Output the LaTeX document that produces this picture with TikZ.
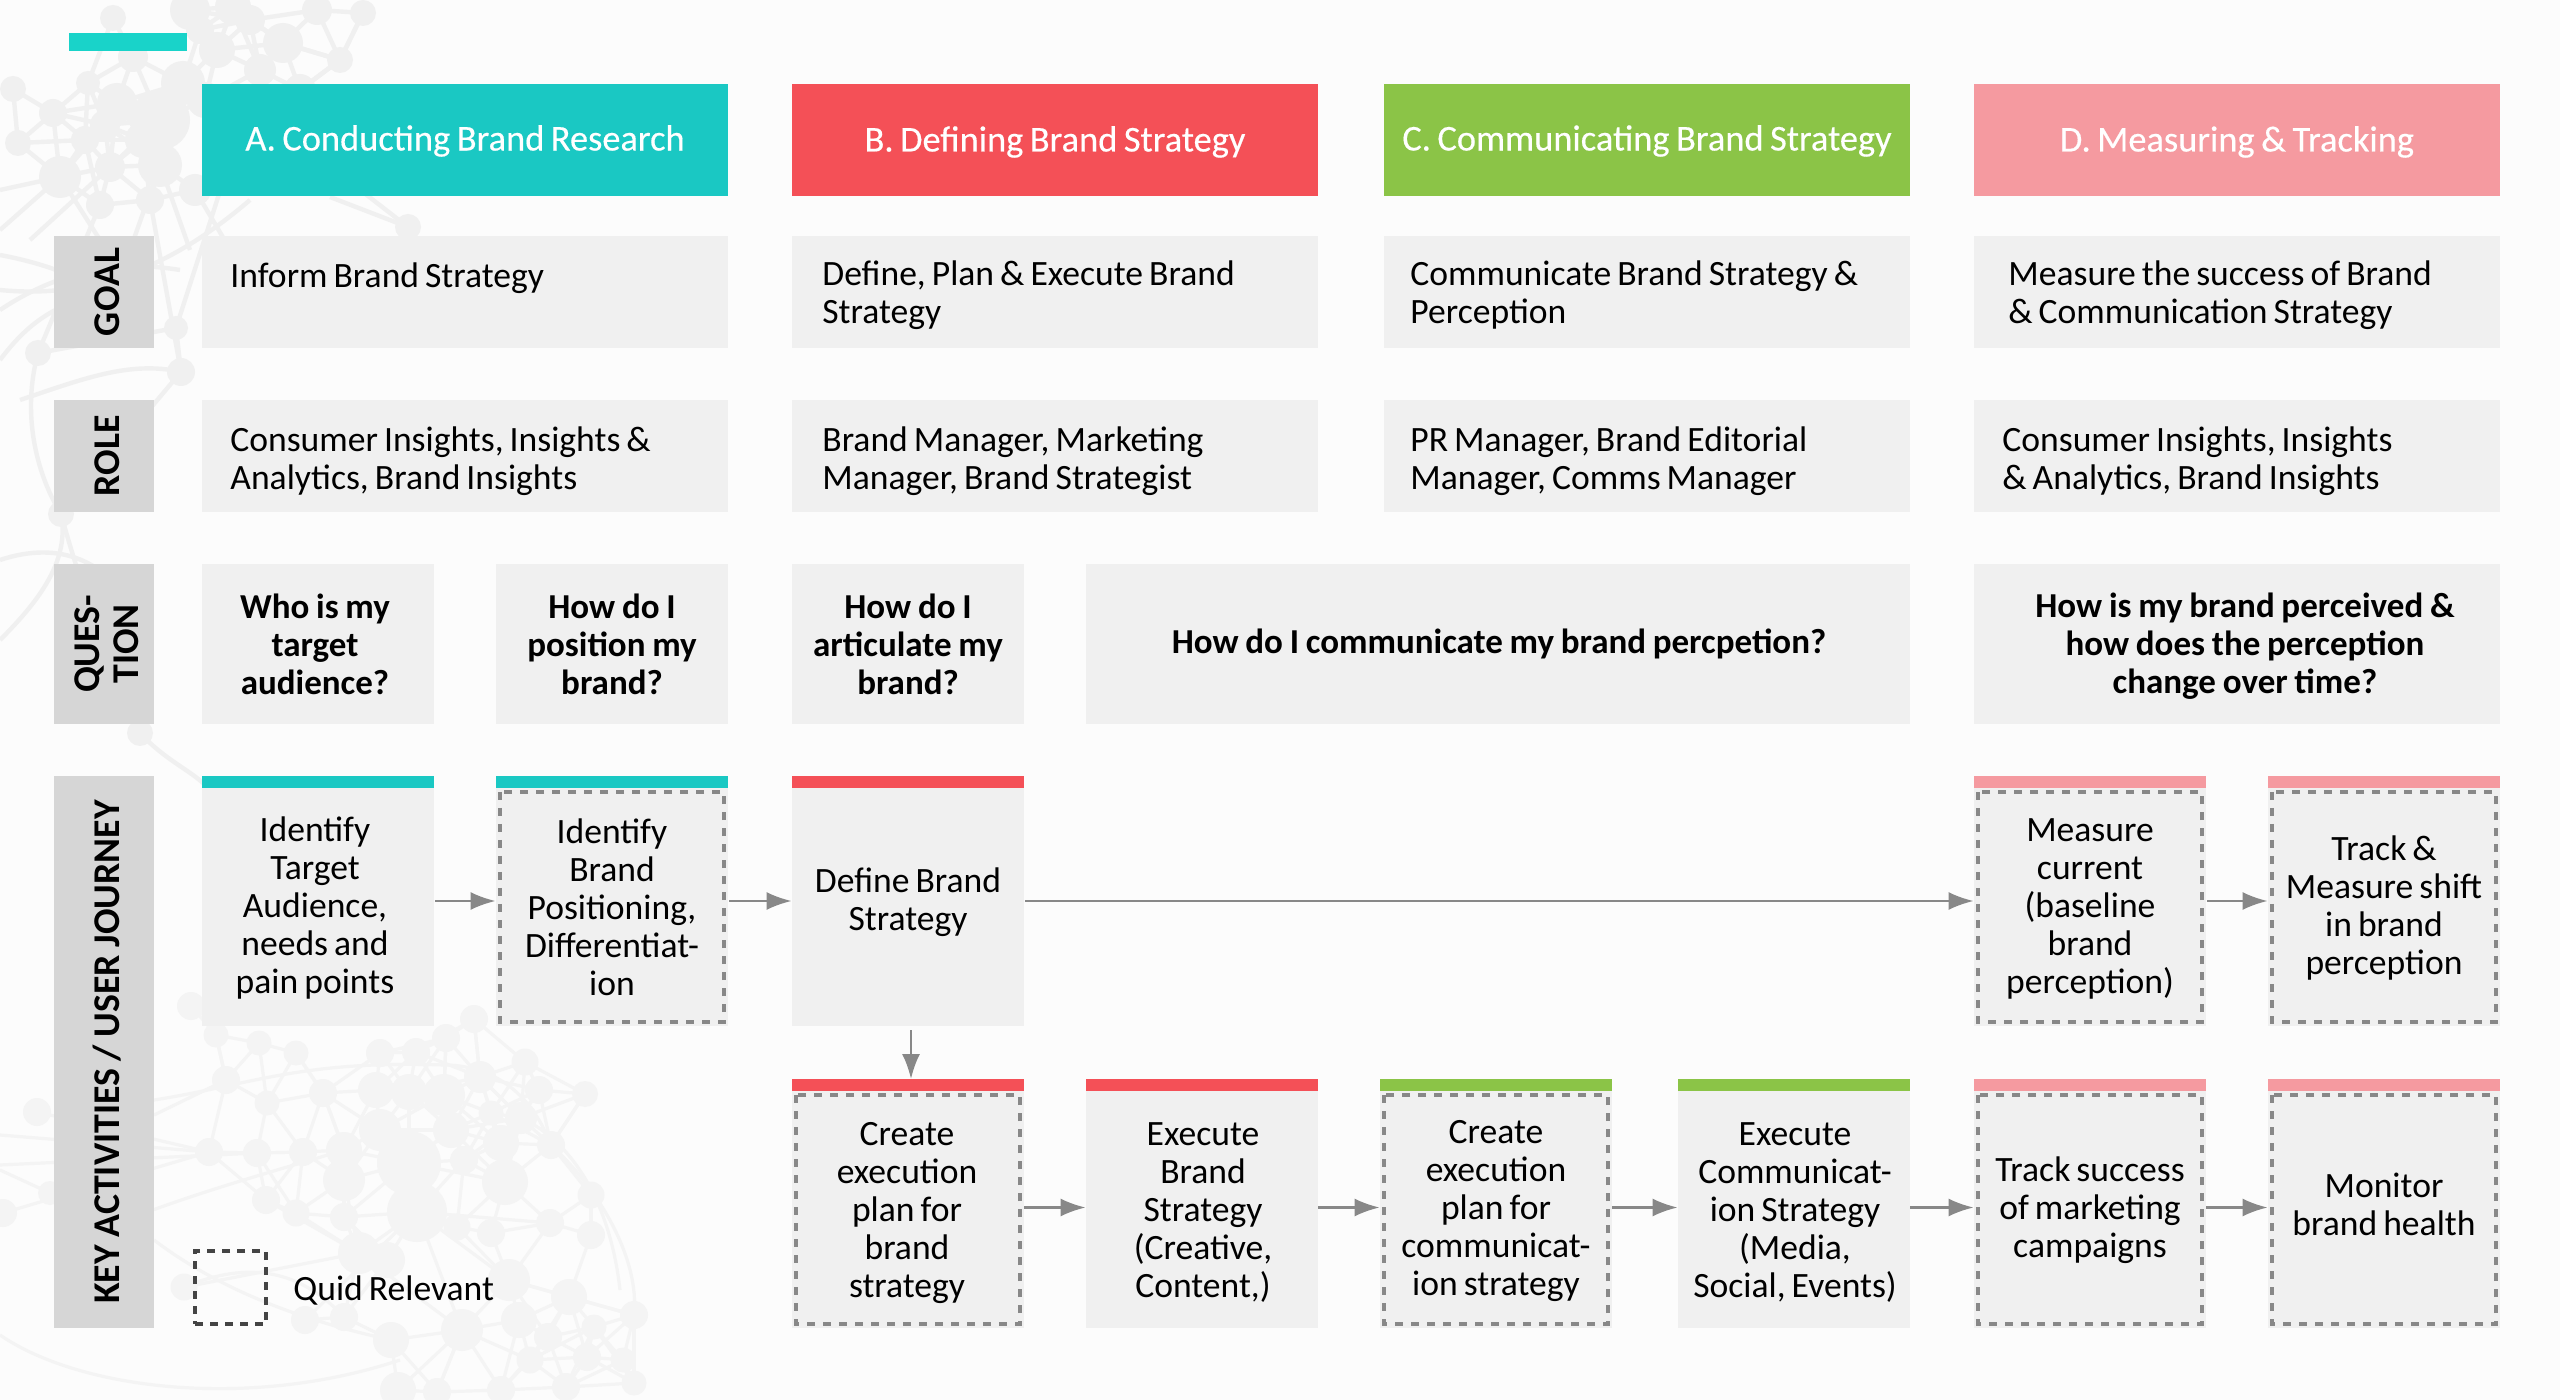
\documentclass[tikz,border=0pt]{standalone}
\usepackage{fontspec}
\setmainfont{Carlito}[WordSpace=0.75,BoldFeatures={WordSpace=0.85}]
\newfontfamily\hdrfont{Carlito}[WordSpace=0.8,FakeBold=0.35]
\newfontfamily\sidefont{Carlito}[WordSpace=0.9]
\usetikzlibrary{arrows.meta}
\definecolor{bgc}{HTML}{FCFCFC}
\definecolor{netlow}{HTML}{F4F4F4}
\definecolor{nettop}{HTML}{F0F0F0}
\definecolor{teal}{HTML}{1AC8C3}
\definecolor{tealbar}{HTML}{19D3C9}
\definecolor{redc}{HTML}{F45057}
\definecolor{greenc}{HTML}{8BC447}
\definecolor{pinkc}{HTML}{F59AA0}
\definecolor{boxc}{HTML}{F0F0F0}
\definecolor{sidec}{HTML}{D6D6D6}
\definecolor{dashc}{HTML}{888888}
\definecolor{legc}{HTML}{444444}
\tikzset{
  x=0.5pt,y=-0.5pt,
  hdr/.style={inner sep=0pt,outer sep=0pt,anchor=north west,text=white,align=center,font=\hdrfont\fontsize{18.2}{22}\selectfont},
  cell/.style={fill=boxc,inner sep=0pt,outer sep=0pt,anchor=north west,align=center,font=\fontsize{17.8}{19}\selectfont},
  lcell/.style={fill=boxc,inner sep=0pt,outer sep=0pt,anchor=north west,font=\fontsize{17.8}{19}\selectfont},
  ltext/.style={inner sep=0pt,anchor=west,align=left,font=\fontsize{17.8}{19}\selectfont},
  qcell/.style={cell,font=\fontsize{17.5}{19}\selectfont\bfseries},
  side/.style={fill=sidec,inner sep=0pt,outer sep=0pt},
  sidetext/.style={inner sep=0pt,rotate=90,align=center,font=\sidefont\fontsize{18.9}{19.5}\selectfont\bfseries},
  qmark/.style={draw=dashc,line width=2pt,dash pattern=on 4pt off 4pt},
  flow/.style={draw=dashc,line width=1.2pt,-{Latex[length=12.5pt,width=9pt]}},
  bar/.style={inner sep=0pt,outer sep=0pt,anchor=north west,minimum height=6pt},
}
% [style]{x1}{y1}{x2}{y2}{name}{dx}{dy}{text}
\newcommand{\cellbox}[9][cell]{\node[#1,minimum width={(#4-#2)*0.5pt},minimum height={(#5-#3)*0.5pt}] (#6) at (#2,#3) {};
  \node[#1,fill=none,anchor=center] (#6t) at ([shift={(#7*0.5pt,-#8*0.5pt)}]#6.center) {#9};}
% {x1}{y1}{x2}{y2}{pad}{dy}{name}{text}
\newcommand{\leftcell}[8]{\node[lcell,minimum width={(#3-#1)*0.5pt},minimum height={(#4-#2)*0.5pt}] (#7) at (#1,#2) {};
  \node[ltext] (#7t) at ([shift={(#5*0.5pt,-#6*0.5pt)}]#7.west) {#8};}
\newcommand{\sidecell}[4]{\node[side,minimum width=50pt,minimum height={(#2-#1)*0.5pt}] (#3) at (104,{(#1+#2)/2}) {};
  \node[sidetext] (#3t) at ([xshift=1.5pt]#3.center) {#4};}
\newcommand{\dbar}[4]{\node[bar,fill=#4,minimum width={(#2-#1)*0.5pt}] (#3) at (#1,\rowtop) {};}
\newcommand{\qrect}[1]{\draw[qmark] ([shift={(2pt,-2pt)}]#1.north west) rectangle ([shift={(-2pt,2pt)}]#1.south east);}
% draw a web: edges between nearby discs, then the discs
\newcommand{\web}[2]{%
  \foreach \x/\y/\r [count=\i] in #1 {%
    \foreach \u/\v/\s [count=\j] in #1 {%
      \ifnum\j>\i
        \pgfmathparse{veclen(\x-\u,\y-\v)<#2 ? 1 : 0}%
        \ifnum\pgfmathresult=1 \draw (\x,\y) -- (\u,\v);\fi
      \fi}}%
  \foreach \x/\y/\r in #1 {\fill (\x,\y) circle ({\r*0.5pt});}}
\def\netlow{191/1006/14,216/1035/12.5,259/1043/12.5,296/1053/12.5,380/1053/14,416/1052/14,446/1038/14,474/1019/14,525/1062/13.5,585/1094/13,226/1080/14,267/1103/12.5,323/1093/14,376/1090/18,409/1092/18,444/1095/21,480/1077/16,539/1090/14,521/1118/16,491/1113/12.5,380/1130/21,451/1130/18,209/1152/14,257/1153/14,303/1152/14,344/1150/18,409/1163/32,505/1182/23,501/1143/18,551/1145/14,464/1160/14,344/1180/21,266/1200/14,296/1213/13.5,344/1217/14,417/1212/30,457/1227/13.5,591/1195/13.5,550/1223/14,591/1235/14,491/1233/14,359/1253/21,387/1260/18,509/1280/21,569/1297/18,634/1315/14,305/1320/14,344/1317/14,391/1340/18,462/1330/21,519/1320/18,594/1327/12.5,548/1337/14,530/1360/13.5,623/1360/12.5,587/1357/14,634/1383/12.5,566/1387/14,398/1390/18,437/1392/14,501/1390/14}
\def\nettopl{13/89/13,53/113/14,18/143/13,60/177/21,88/83/12,113/18/13,340/60/13,363/13/13,190/10/20,233/7/18,283/43/20,250/20/15,317/10/15,217/50/18,133/57/15,110/167/15,143/140/18,117/103/20,183/83/22,160/120/30,160/165/22,105/125/15,205/100/18,85/140/14,100/205/14,150/200/14,195/190/16,230/160/14,270/120/18,300/90/16,260/70/16,200/30/14}
\begin{document}
\begin{tikzpicture}
\useasboundingbox (0,0) rectangle (2560,1400);
\fill[bgc] (0,0) rectangle (2560,1400);
% background network, lower
\begin{scope}[draw=netlow,fill=netlow,line width=1.6pt]
\web{\netlow}{75}
\foreach \a/\b/\c/\d in {185/1287/359/1253,409/1163/505/1182,409/1163/344/1217,409/1163/451/1130,417/1212/509/1280,417/1212/550/1223,417/1212/305/1320,417/1212/462/1330,359/1253/462/1330,509/1280/634/1315,462/1330/398/1390,462/1330/437/1392,0/1135/209/1152,0/1165/257/1153,0/1170/50/1193,3/1213/209/1152,37/1112/209/1152,154/1115/226/1080,216/1035/226/1080,296/1053/323/1093,323/1093/344/1150,585/1094/551/1145,474/1019/480/1077,446/1038/444/1095,266/1200/359/1253}
  {\draw (\a,\b) -- (\c,\d);}
\draw (154,1100) .. controls (250,1085) and (300,1060) .. (444,1065);
\draw (444,1065) .. controls (490,1065) and (530,1090) .. (551,1145);
\draw (551,1145) .. controls (600,1190) and (640,1260) .. (634,1315);
\draw (521,1118) .. controls (570,1140) and (610,1200) .. (620,1290);
\draw (100,1230) .. controls (200,1190) and (280,1170) .. (344,1150);
\draw (0,1335) .. controls (80,1390) and (250,1410) .. (400,1360);
\draw (184,1287) .. controls (250,1260) and (300,1270) .. (344,1317);
\draw (154,1240) .. controls (220,1290) and (300,1320) .. (391,1340);
\foreach \x/\y/\r in {37/1112/14,3/1213/14,50/1193/12,184/1287/13.5}{\fill (\x,\y) circle ({\r*0.5pt});}
\end{scope}
% background network, top left
\begin{scope}[draw=nettop,fill=nettop,line width=2.2pt]
\web{\nettopl}{70}
\foreach \a/\b/\c/\d in {270/120/408/227,195/190/260/300,230/160/176/328,150/200/181/372,100/205/38/353,60/177/0/230,60/177/0/190,38/353/176/328,176/328/181/372,340/60/283/43,340/60/300/90,340/60/363/13,60/177/100/240,110/167/30/240,160/165/130/250,160/165/190/250,330/197/408/227}
  {\draw (\a,\b) -- (\c,\d);}
\draw (0,255) .. controls (80,270) and (120,300) .. (150,330);
\draw (0,310) .. controls (60,270) and (120,260) .. (180,270);
\draw (0,290) .. controls (100,300) and (180,260) .. (250,200);
\draw (0,360) .. controls (30,320) and (60,300) .. (120,290);
\draw (20,400) .. controls (80,380) and (130,360) .. (181,372);
\draw (38,353) .. controls (20,420) and (40,480) .. (61,514);
\draw (61,514) .. controls (70,560) and (40,600) .. (0,640);
\draw (61,514) .. controls (90,620) and (120,680) .. (140,733);
\draw (0,560) .. controls (60,540) and (110,560) .. (140,620);
\draw (181,372) .. controls (140,420) and (100,470) .. (61,514);
\draw (140,733) .. controls (165,760) and (190,770) .. (205,785);
\foreach \x/\y/\r in {408/227/13,176/328/12,181/372/14,38/353/13,61/514/13,140/733/13}{\fill (\x,\y) circle ({\r*0.5pt});}
\end{scope}
% top accent bar
\fill[tealbar] (69,33) rectangle (187,51);
% headers
\cellbox[hdr,fill=teal]{202}{84}{728}{196}{hA}{0}{1}{A. Conducting Brand Research}
\cellbox[hdr,fill=redc]{792}{84}{1318}{196}{hB}{0}{2}{B. Defining Brand Strategy}
\cellbox[hdr,fill=greenc]{1384}{84}{1910}{196}{hC}{0}{1}{C. Communicating Brand Strategy}
\cellbox[hdr,fill=pinkc]{1974}{84}{2500}{196}{hD}{0}{2}{D. Measuring \& Tracking}
% side labels
\sidecell{236}{348}{sG}{GOAL}
\sidecell{400}{512}{sR}{ROLE}
\sidecell{564}{724}{sQ}{QUES-\\TION}
\sidecell{776}{1328}{sK}{KEY ACTIVITIES / USER JOURNEY}
% goal
\leftcell{202}{236}{728}{348}{28}{2}{gA}{Inform Brand Strategy\\ \mbox{}}
\leftcell{792}{236}{1318}{348}{30}{3.5}{gB}{Define, Plan \& Execute Brand\\Strategy}
\leftcell{1384}{236}{1910}{348}{26}{3.5}{gC}{Communicate Brand Strategy \&\\Perception}
\leftcell{1974}{236}{2500}{348}{34}{3.5}{gD}{Measure the success of Brand\\\& Communication Strategy}
% role
\leftcell{202}{400}{728}{512}{28}{5}{rA}{Consumer Insights, Insights \&\\Analytics, Brand Insights}
\leftcell{792}{400}{1318}{512}{30}{5}{rB}{Brand Manager, Marketing\\Manager, Brand Strategist}
\leftcell{1384}{400}{1910}{512}{26}{5}{rC}{PR Manager, Brand Editorial\\Manager, Comms Manager}
\leftcell{1974}{400}{2500}{512}{28}{5}{rD}{Consumer Insights, Insights\\\& Analytics, Brand Insights}
% questions
\cellbox[qcell]{202}{564}{434}{724}{q1}{-3}{0}{Who is my\\target\\audience?}
\cellbox[qcell]{496}{564}{728}{724}{q2}{0}{0}{How do I\\position my\\brand?}
\cellbox[qcell]{792}{564}{1024}{724}{q3}{0}{0}{How do I\\articulate my\\brand?}
\cellbox[qcell]{1086}{564}{1910}{724}{q4}{1}{0}{How do I communicate my brand percpetion?}
\cellbox[qcell]{1974}{564}{2500}{724}{q5}{8}{2}{How is my brand perceived \&\\how does the perception\\change over time?}
% activities, upper row
\def\rowtop{776}
\cellbox{202}{788}{434}{1026}{a1}{-3}{1.5}{Identify\\Target\\Audience,\\needs and\\pain points}
\cellbox{496}{788}{728}{1026}{a2}{0}{0}{Identify\\Brand\\Positioning,\\Differentiat-\\ion}
\cellbox{792}{788}{1024}{1026}{a3}{0}{-5}{Define Brand\\Strategy}
\cellbox{1974}{788}{2206}{1026}{a4}{0}{1.5}{Measure\\current\\(baseline\\brand\\perception)}
\cellbox{2268}{788}{2500}{1026}{a5}{0}{1}{Track \&\\Measure shift\\in brand\\perception}
\dbar{202}{434}{b1}{teal}\dbar{496}{728}{b2}{teal}\dbar{792}{1024}{b3}{redc}\dbar{1974}{2206}{b4}{pinkc}\dbar{2268}{2500}{b5}{pinkc}
% activities, lower row
\def\rowtop{1079}
\cellbox{792}{1091}{1024}{1328}{c1}{-1}{3.5}{Create\\execution\\plan for\\brand\\strategy}
\cellbox{1086}{1091}{1318}{1328}{c2}{1}{3.5}{Execute\\Brand\\Strategy\\(Creative,\\Content,)}
\cellbox{1380}{1091}{1612}{1328}{c3}{0}{1.5}{Create\\execution\\plan for\\communicat-\\ion strategy}
\cellbox{1678}{1091}{1910}{1328}{c4}{1}{3.5}{Execute\\Communicat-\\ion Strategy\\(Media,\\Social, Events)}
\cellbox{1974}{1091}{2206}{1328}{c5}{0}{1}{Track success\\of marketing\\campaigns}
\cellbox{2268}{1091}{2500}{1328}{c6}{0}{-5}{Monitor\\brand health}
\dbar{792}{1024}{d1}{redc}\dbar{1086}{1318}{d2}{redc}\dbar{1380}{1612}{d3}{greenc}\dbar{1678}{1910}{d4}{greenc}\dbar{1974}{2206}{d5}{pinkc}\dbar{2268}{2500}{d6}{pinkc}
% quid relevant marks
\foreach \n in {a2,a4,a5,c1,c3,c5,c6}{\qrect{\n}}
% connectors
\foreach \s/\t in {a1/a2,a2/a3,a3/a4,a4/a5}
  {\draw[flow] ([shift={(0.5pt,3pt)}]\s.east) -- ([shift={(-0.2pt,3pt)}]\t.west);}
\foreach \s/\t in {c1/c2,c2/c3,c3/c4,c4/c5,c5/c6}
  {\draw[flow] ([shift={(0.2pt,1pt)}]\s.east) -- ([shift={(-0.2pt,1pt)}]\t.west);}
\draw[flow] ([shift={(1.5pt,-2pt)}]a3.south) -- ([xshift=1.5pt]d1.north);
% legend
\node[draw=legc,line width=1.8pt,dash pattern=on 4pt off 3.5pt,inner sep=0pt,minimum width=35.5pt,minimum height=36.5pt] (lg) at (230.5,1287.5) {};
\node[ltext] (lt) at (293,1290) {Quid Relevant};
\end{tikzpicture}
\end{document}
